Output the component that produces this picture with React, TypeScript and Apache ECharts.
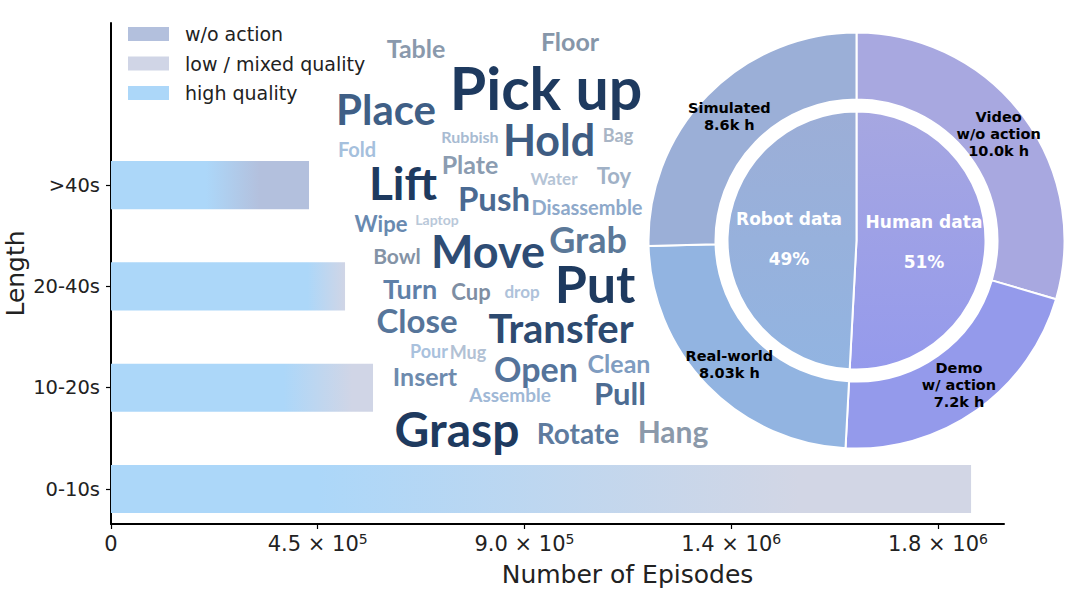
import React, { useEffect, useRef } from 'react';
import * as echarts from 'echarts';

// ---------- data ----------
const LENGTH_CATEGORIES = ['0-10s', '10-20s', '20-40s', '>40s'];
const EPISODES = [1872000, 570300, 509400, 431000];
const X_TICKS = [0, 450000, 900000, 1350000, 1800000];
const X_TICK_MANTISSA = ['0', '4.5', '9.0', '1.4', '1.8'];
const X_TICK_EXPONENT = ['', '5', '5', '6', '6'];
const LEGEND_NAMES = ['w/o action', 'low / mixed quality', 'high quality'];

const OUTER_NAMES = ['Video\nw/o action', 'Demo\nw/ action', 'Real-world', 'Simulated'];
const OUTER_HOURS = [10.0, 7.2, 8.03, 8.6];
const OUTER_HOUR_LABELS = ['10.0k h', '7.2k h', '8.03k h', '8.6k h'];
const INNER_NAMES = ['Human data', 'Robot data'];
const INNER_MEMBERS = [[0, 1], [2, 3]];

const WORDS = [
  'Pick up', 'Put', 'Grasp', 'Lift', 'Move', 'Hold', 'Place', 'Transfer', 'Grab', 'Open',
  'Push', 'Close', 'Pull', 'Hang', 'Rotate', 'Turn', 'Clean', 'Table', 'Floor', 'Plate',
  'Insert', 'Cup', 'Wipe', 'Toy', 'Bowl', 'Assemble', 'Disassemble', 'Fold', 'Mug', 'Bag',
  'Pour', 'drop', 'Water', 'Rubbish', 'Laptop',
];
const WORD_WEIGHTS = [
  59, 52, 48, 46, 45, 43, 42, 40, 36, 34,
  33, 33, 31, 30, 28, 27, 25, 25, 25, 25,
  25, 22, 22, 22, 21, 19, 20, 20, 18, 18,
  18, 17, 17, 16, 14,
];

// ---------- layout / style ----------
const WORD_POS: [number, number][] = [
  [546, 87], [595, 283], [457, 428], [403, 182], [488, 251], [549, 139], [386, 109], [561, 328], [588, 239], [536, 368],
  [494, 198], [417, 320], [620, 393], [673, 431], [578, 433], [410, 288], [619, 363], [416, 48], [570, 41], [470, 164],
  [425, 376], [471, 291], [381, 223], [614, 175], [397, 255], [510, 394], [587, 207], [357, 149], [468, 352], [618, 135],
  [429, 351], [522, 291], [554, 178], [470, 136], [437, 219],
];
const WORD_COLORS = [
  '#1e3a5f', '#1e3a5f', '#1e3a5f', '#1e3a5f', '#2e4c74', '#3e5c82', '#3f5f86', '#2d4a70', '#5b7898', '#54739a',
  '#4a6a92', '#56759a', '#4d6c92', '#8b99aa', '#5e7b9e', '#5f80a8', '#7f9cc0', '#8a99ac', '#8696a9', '#8b9cb1',
  '#6e8bae', '#7e8ea3', '#6889b0', '#a0b1c6', '#8493a6', '#9fb8d6', '#8ea9ca', '#a5c0dd', '#b2c1d4', '#a9b5c5',
  '#a9c1dd', '#aec2da', '#b5c4d6', '#a8bbd2', '#b9c8d9',
];

const C_WO = '#b3c0dd';
const C_LOW = '#d0d5e6';
const C_HIGH = '#acd7f9';
const LEGEND_COLORS = [C_WO, C_LOW, C_HIGH];
const BAR_FADES: [number, string][][] = [
  [[0, C_HIGH], [0.24, C_HIGH], [0.8, '#d2d6e5'], [1, '#d2d6e5']],
  [[0, C_HIGH], [0.66, C_HIGH], [0.92, C_LOW], [1, C_LOW]],
  [[0, C_HIGH], [0.84, C_HIGH], [1, C_LOW]],
  [[0, C_HIGH], [0.48, C_HIGH], [0.75, C_WO], [1, C_WO]],
];
const OUTER_COLORS = ['#a8a8e0', '#949aeb', '#92b4e1', '#9bafd7'];
const INNER_GRADS = [
  ['#a6a7e1', '#959aec'],
  ['#9caed7', '#92b4e1'],
];

const FONT = "'DejaVu Sans', sans-serif";

export default function App() {
  const ref = useRef<HTMLDivElement>(null);
  useEffect(() => {
    if (!ref.current) return;
    const chart = echarts.init(ref.current, undefined, { renderer: 'svg' });
    const innerValues = INNER_MEMBERS.map((m) => m.reduce((s, k) => s + OUTER_HOURS[k], 0));
    const BAR_H = 0.475;
    chart.setOption({
      animation: false,
      backgroundColor: '#ffffff',
      legend: {
        orient: 'vertical',
        left: 128,
        top: 23,
        padding: 0,
        itemWidth: 41,
        itemHeight: 14,
        itemGap: 7.5,
        icon: 'rect',
        selectedMode: false,
        data: LEGEND_NAMES,
        textStyle: { fontFamily: FONT, fontSize: 19, color: '#222', lineHeight: 22, padding: [0, 0, 0, 11] },
      },
      grid: { left: 111, right: 76, top: 23, bottom: 74, outerBoundsMode: 'none', containLabel: false },
      xAxis: {
        type: 'value',
        min: 0,
        max: 1943700,
        name: 'Number of Episodes',
        nameLocation: 'middle',
        nameGap: 38,
        nameMoveOverlap: false,
        nameTextStyle: { fontFamily: FONT, fontSize: 25, color: '#222', padding: [0, 0, 0, 140] },
        axisLine: { show: true, onZero: false, lineStyle: { color: '#000', width: 2 } },
        axisTick: { show: true, length: 5, lineStyle: { color: '#000', width: 1.2 }, customValues: X_TICKS },
        axisLabel: {
          customValues: X_TICKS,
          margin: 8,
          color: '#222',
          formatter: (v: number) => {
            const i = X_TICKS.indexOf(v);
            if (i < 0) return '';
            if (!X_TICK_EXPONENT[i]) return '{m|' + X_TICK_MANTISSA[i] + '}';
            return '{m|' + X_TICK_MANTISSA[i] + ' × 10}{s|' + X_TICK_EXPONENT[i] + '}';
          },
          rich: {
            m: { fontFamily: FONT, fontSize: 21, color: '#222', lineHeight: 24 },
            s: { fontFamily: FONT, fontSize: 14, color: '#222', lineHeight: 19, verticalAlign: 'top' },
          },
        },
        splitLine: { show: false },
      },
      yAxis: {
        type: 'value',
        min: -0.345,
        max: 4.6,
        name: 'Length',
        nameLocation: 'middle',
        nameGap: 83,
        nameMoveOverlap: false,
        nameTextStyle: { fontFamily: FONT, fontSize: 25, color: '#222', lineHeight: 26 },
        axisLine: { show: true, onZero: false, lineStyle: { color: '#000', width: 2 } },
        axisTick: { show: true, length: 5, lineStyle: { color: '#000', width: 1.2 }, customValues: [0, 1, 2, 3] },
        axisLabel: {
          customValues: [0, 1, 2, 3],
          margin: 11,
          fontFamily: FONT,
          fontSize: 19.5,
          color: '#222',
          formatter: (v: number) => LENGTH_CATEGORIES[Math.round(v)] ?? '',
        },
        splitLine: { show: false },
      },
      series: [
        {
          type: 'custom',
          name: 'episodes',
          data: EPISODES.map((v, i) => [v, i]),
          encode: { x: 0, y: 1 },
          renderItem: (params: any, api: any) => {
            const v = api.value(0);
            const yi = api.value(1);
            const s = api.coord([0, yi]);
            const e = api.coord([v, yi]);
            const h = api.size([0, BAR_H])[1];
            const stops = BAR_FADES[params.dataIndex].map(([o, c]) => ({ offset: o, color: c }));
            return {
              type: 'rect',
              shape: { x: s[0], y: s[1] - h / 2, width: e[0] - s[0], height: h },
              style: { fill: new echarts.graphic.LinearGradient(0, 0, 1, 0, stops) },
            };
          },
        },
        ...LEGEND_NAMES.map((n, i) => ({
          type: 'custom',
          name: n,
          data: [],
          renderItem: () => null,
          itemStyle: { color: LEGEND_COLORS[i] },
        })),
        {
          type: 'pie',
          name: 'inner',
          center: [856.5, 240.5],
          radius: [0, 129],
          startAngle: 90,
          clockwise: true,
          percentPrecision: 0,
          silent: true,
          itemStyle: { borderColor: '#fff', borderWidth: 2 },
          label: {
            show: true,
            position: 'inside',
            formatter: '{b}\n\n{d}%',
            color: '#fff',
            fontFamily: FONT,
            fontWeight: 'bold',
            fontSize: 17,
            lineHeight: 20,
          },
          labelLine: { show: false },
          data: INNER_NAMES.map((n, i) => ({
            name: n,
            value: innerValues[i],
            itemStyle: {
              color: new echarts.graphic.LinearGradient(0, 0, 0, 1, [
                { offset: 0, color: INNER_GRADS[i][0] },
                { offset: 1, color: INNER_GRADS[i][1] },
              ]),
            },
          })),
        },
        {
          type: 'pie',
          name: 'outer',
          center: [856.5, 240.5],
          radius: [141, 208],
          startAngle: 90,
          clockwise: true,
          silent: true,
          itemStyle: { borderColor: '#fff', borderWidth: 2 },
          label: {
            show: true,
            position: 'inside',
            formatter: (p: any) => p.name + '\n' + OUTER_HOUR_LABELS[p.dataIndex],
            color: '#000',
            fontFamily: FONT,
            fontWeight: 'bold',
            fontSize: 14.5,
            lineHeight: 17,
          },
          labelLine: { show: false },
          data: OUTER_NAMES.map((n, i) => ({ name: n, value: OUTER_HOURS[i], itemStyle: { color: OUTER_COLORS[i] } })),
        },
      ],
      graphic: WORDS.map((w, i) => ({
        type: 'text',
        x: WORD_POS[i][0],
        y: WORD_POS[i][1],
        z: 1,
        silent: true,
        style: {
          text: w,
          fontSize: WORD_WEIGHTS[i],
          fontFamily: 'Lato',
          fontWeight: 'bold',
          fill: WORD_COLORS[i],
          align: 'center',
          verticalAlign: 'middle',
        },
      })),
    });
    return () => chart.dispose();
  }, []);
  return <div ref={ref} style={{ position: 'fixed', left: 0, top: 0, width: 1080, height: 598 }} />;
}
